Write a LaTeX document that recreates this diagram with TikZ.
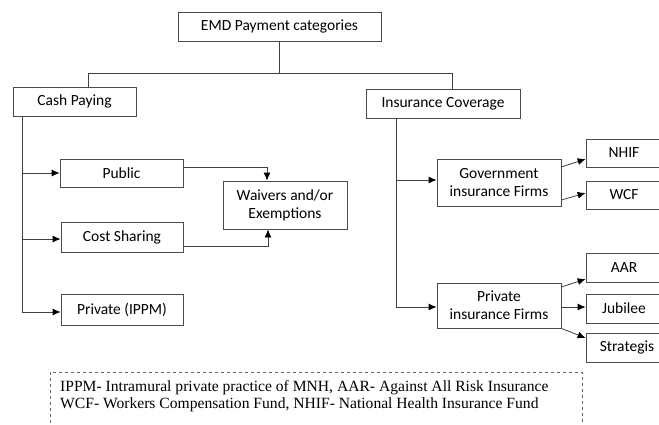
\documentclass[tikz,border=0pt]{standalone}
\usepackage{fontspec}
\setmainfont{Carlito}
\newfontfamily\legendfont{Liberation Serif}
\usepackage{tikz}
\usetikzlibrary{calc,arrows.meta}

\tikzset{
  box/.style={draw=black!70,line width=0.8pt,inner sep=0pt,align=center,
    font=\fontsize{15.5}{18}\selectfont},
  link/.style={draw=black!75,line width=0.8pt},
  tip/.style={link,-{Latex[length=8pt,width=7pt,black]}}
}

\begin{document}
\begin{tikzpicture}[x=1pt,y=-1pt]
\useasboundingbox (0,0) rectangle (659,424);
\clip (0,0) rectangle (659,424);
% boxes
\node[box,minimum width=203pt,minimum height=29pt](emd)at(279.5,26.5){EMD Payment categories};
\node[box,minimum width=123pt,minimum height=29pt](cash)at(74.5,101.5){Cash Paying};
\node[box,minimum width=154pt,minimum height=29pt](ins)at(443,103.5){Insurance Coverage};
\node[box,minimum width=123pt,minimum height=28pt](public)at(121.5,173){Public};
\node[box,minimum width=122pt,minimum height=30pt](cost)at(122,237){Cost Sharing};
\node[box,minimum width=122pt,minimum height=31pt](ippm)at(122,309.5){Private (IPPM)};
\node[box,minimum width=124pt,minimum height=48pt](waiv)at(285,205){Waivers and/or\\Exemptions};
\node[box,minimum width=124pt,minimum height=47pt](gov)at(499,182.5){Government\\insurance Firms};
\node[box,minimum width=124pt,minimum height=45pt](priv)at(499,305.5){Private\\insurance Firms};
\node[box,minimum width=76pt,minimum height=28pt](nhif)at(624,153){NHIF};
\node[box,minimum width=76pt,minimum height=28pt](wcf)at(624,195){WCF};
\node[box,minimum width=76pt,minimum height=29pt](aar)at(624,267.5){AAR};
\node[box,minimum width=76pt,minimum height=29pt](jub)at(624,308.5){Jubilee};
\node[box,minimum width=82pt,minimum height=29pt](strat)at(627,347.5){Strategis};
% legend
\node[draw=black!60,dashed,line width=0.7pt,minimum width=532pt,minimum height=70pt,anchor=north west](legend)at(50,372){};
\node[anchor=north west,inner sep=0pt,align=left,font=\legendfont\fontsize{15.6}{17}\selectfont](legtext)at(60,380)
  {IPPM- Intramural private practice of MNH, AAR- Against All Risk Insurance\\
   WCF- Workers Compensation Fund, NHIF- National Health Insurance Fund};
% tree
\coordinate (split) at (emd.south |- 0,73);
\draw[link] (emd.south) -- (split) -| ([xshift=13.5pt]cash.north);
\draw[link] (split) -| ([xshift=9pt]ins.north);
\coordinate (cashtrunk) at ([xshift=-52.5pt]cash.south);
\draw[tip] (cashtrunk) |- (public.west);
\draw[tip] (cashtrunk) |- ([yshift=-2pt]cost.west);
\draw[tip] (cashtrunk) |- ([yshift=-2.5pt]ippm.west);
\draw[tip] ([yshift=6pt]public.east) -| ([xshift=-18pt]waiv.north);
\draw[tip] ([yshift=-9pt]cost.east) -| ([xshift=-17pt]waiv.south);
\coordinate (instrunk) at ([xshift=-47pt]ins.south);
\draw[tip] (instrunk) |- ([yshift=2.5pt]gov.west);
\draw[tip] (instrunk) |- ([yshift=-1.5pt]priv.west);
\draw[tip] ([yshift=15.5pt]gov.east) -- ([yshift=-6pt]nhif.west);
\draw[tip] ([yshift=-17.5pt]gov.east) -- ([yshift=2pt]wcf.west);
\draw[tip] ([yshift=18.5pt]priv.east) -- ([yshift=-11.5pt]aar.west);
\draw[tip] ([yshift=-1.5pt]priv.east) -- ([yshift=1.5pt]jub.west);
\draw[tip] (priv.south east) -- ([yshift=9.5pt]strat.west);
\end{tikzpicture}
\end{document}
